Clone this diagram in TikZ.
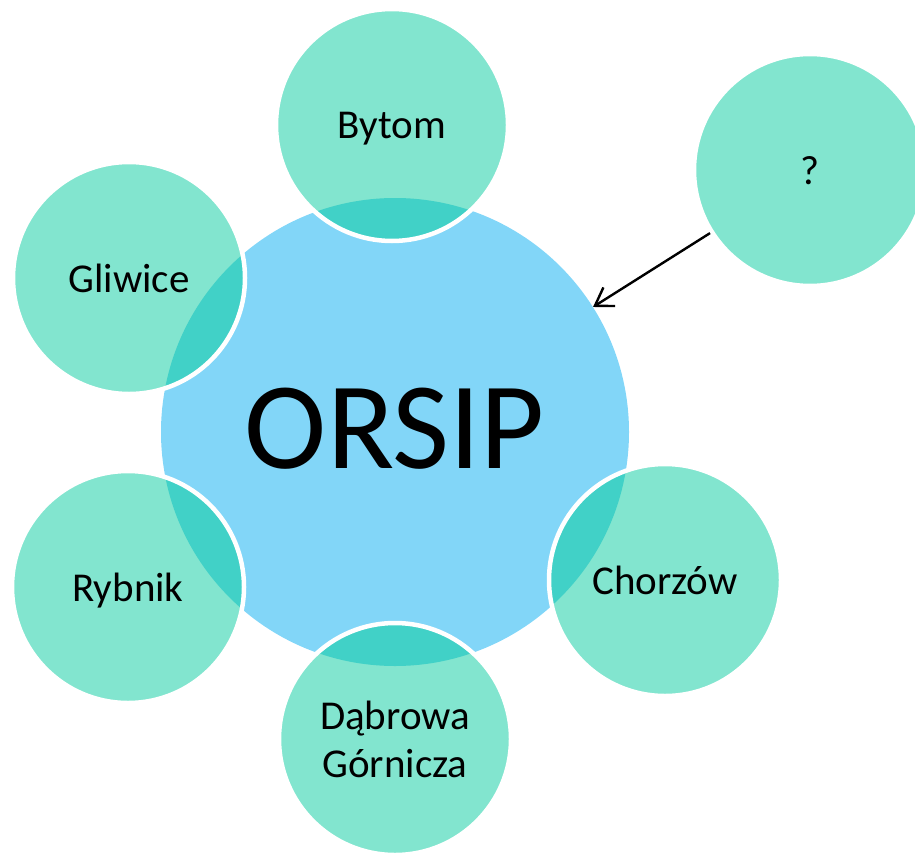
\documentclass[tikz,border=0pt]{standalone}
\usepackage{fontspec}
\setmainfont{Carlito}
\usetikzlibrary{arrows.meta}
\pgfdeclarelayer{bg}
\pgfdeclarelayer{mid}
\pgfsetlayers{bg,mid,main}
\definecolor{satfill}{HTML}{82E5CF}
\definecolor{mainfill}{HTML}{82D6F8}
\definecolor{ovfill}{HTML}{41D1C7}
\begin{document}
\begin{tikzpicture}[x=1pt,y=-1pt,
  sat/.style={circle,minimum size=232pt,inner sep=0pt,draw=white,line width=4.5pt,
    font=\fontsize{41}{48}\selectfont,align=center},
  one/.style={text depth=0pt},
  hub/.style={circle,minimum size=468pt,inner sep=0pt,text depth=8pt,
    font=\fontsize{124}{140}\selectfont},
  link/.style={line width=2.4pt,-{Straight Barb[length=17pt,width=22pt,line width=2.4pt]}}]
\useasboundingbox (0,0) rectangle (915,856);
\node[hub] (main) at (395,432) {ORSIP};
\node[sat,one] (bytom) at (392,125) {Bytom};
\node[sat,one] (gliwice) at (129,278) {Gliwice};
\node[sat,one] (chorzow) at (665,580) {Chorzów};
\node[sat,one] (rybnik) at (128,587) {Rybnik};
\node[sat] (dabrowa) at (395,739) {Dąbrowa\\Górnicza};
\node[sat,one] (q) at (810,170) {?};
\begin{pgfonlayer}{bg}
  \fill[mainfill] (main.center) circle (234pt);
  \foreach \n in {bytom,gliwice,chorzow,rybnik,dabrowa,q}
    \fill[satfill] (\n.center) circle (116pt);
\end{pgfonlayer}
\begin{pgfonlayer}{mid}
  \foreach \n in {bytom,gliwice,chorzow,rybnik,dabrowa}{
    \begin{scope}
      \clip (\n.center) circle (116pt);
      \fill[ovfill] (main.center) circle (234pt);
    \end{scope}
  }
\end{pgfonlayer}
\draw[link] (q) -- (main);
\end{tikzpicture}
\end{document}
